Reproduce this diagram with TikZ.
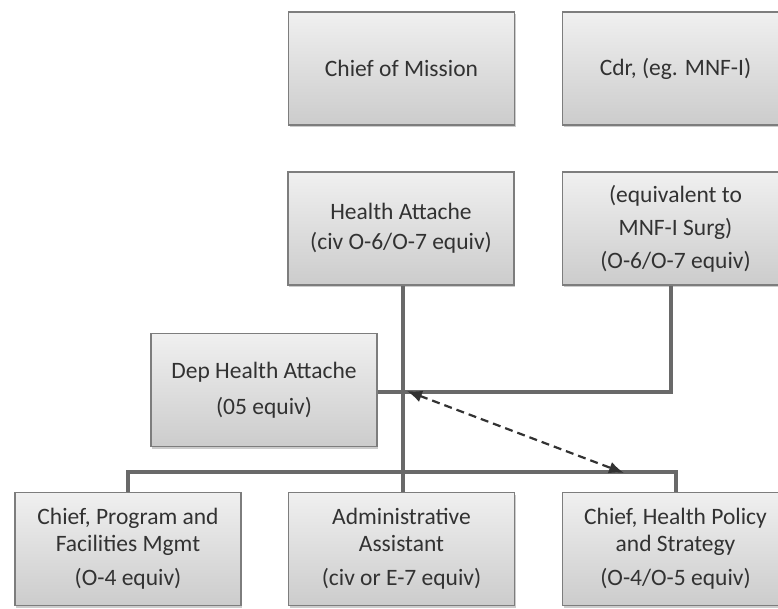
\documentclass[tikz,border=0pt]{standalone}
\usepackage{fontspec}
\setmainfont{Carlito}
\usetikzlibrary{shadows,arrows.meta}
\tikzset{>=latex}
\definecolor{boxline}{RGB}{125,125,125}
\definecolor{linkgray}{RGB}{105,105,105}
\definecolor{txtgray}{RGB}{50,50,50}
\tikzset{
  post/.style={draw=boxline,line width=1.2pt,top color=black!6,bottom color=black!20,
    minimum width=226pt,minimum height=113pt,align=center,text=txtgray,
    font=\fontsize{23.5}{30}\selectfont,
    drop shadow={shadow xshift=1pt,shadow yshift=-2.5pt,opacity=.4}},
  link/.style={draw=linkgray,line width=4pt},
}

\begin{document}
\begin{tikzpicture}[x=1pt,y=-1pt]
\useasboundingbox (0,0) rectangle (778,609);
% top row
\node [post] (mission) at (401.5,68.5) {Chief of Mission};
\node [post] (cdr) at (675.5,68.5) {Cdr, (eg. MNF-I)};
% attaches
\node [post] (health) at (401,228.5) {Health Attache\\(civ O-6/O-7 equiv)};
\node [post,font=\fontsize{23.5}{33}\selectfont] (surg) at (675.5,228.5) {(equivalent to\\MNF-I Surg)\\(O-6/O-7 equiv)};
\node [post,font=\fontsize{23.5}{36}\selectfont] (dep) at (264,390) {Dep Health Attache\\(05 equiv)};
% staff
\node [post,font=\fontsize{23.5}{27}\selectfont] (prog) at (128,549) {Chief, Program and\\Facilities Mgmt\\[7pt](O-4 equiv)};
\node [post,font=\fontsize{23.5}{27}\selectfont] (admin) at (401.5,549) {Administrative\\Assistant\\[7pt](civ or E-7 equiv)};
\node [post,font=\fontsize{23.5}{27}\selectfont] (policy) at (675.5,549) {Chief, Health Policy\\and Strategy\\[7pt](O-4/O-5 equiv)};

\coordinate (hub) at (403,392);
\coordinate (bar) at (403,472);
\draw [link] (health.south -| hub) -- (bar);
\draw [link] ([xshift=-5pt]surg.south) |- (hub);
\draw [link] (dep.east |- hub) -- (hub);
\draw [link] (prog.north) |- (bar) -| (policy.north);
\draw [link] (bar) -- (admin.north -| bar);
\draw [{Latex[length=15pt,width=12pt]}-{Latex[length=15pt,width=12pt]},line width=2.2pt,color=txtgray,dash pattern=on 8pt off 5pt] ([xshift=4pt,yshift=1pt]hub) -- (624,473);
\end{tikzpicture}
\end{document}
